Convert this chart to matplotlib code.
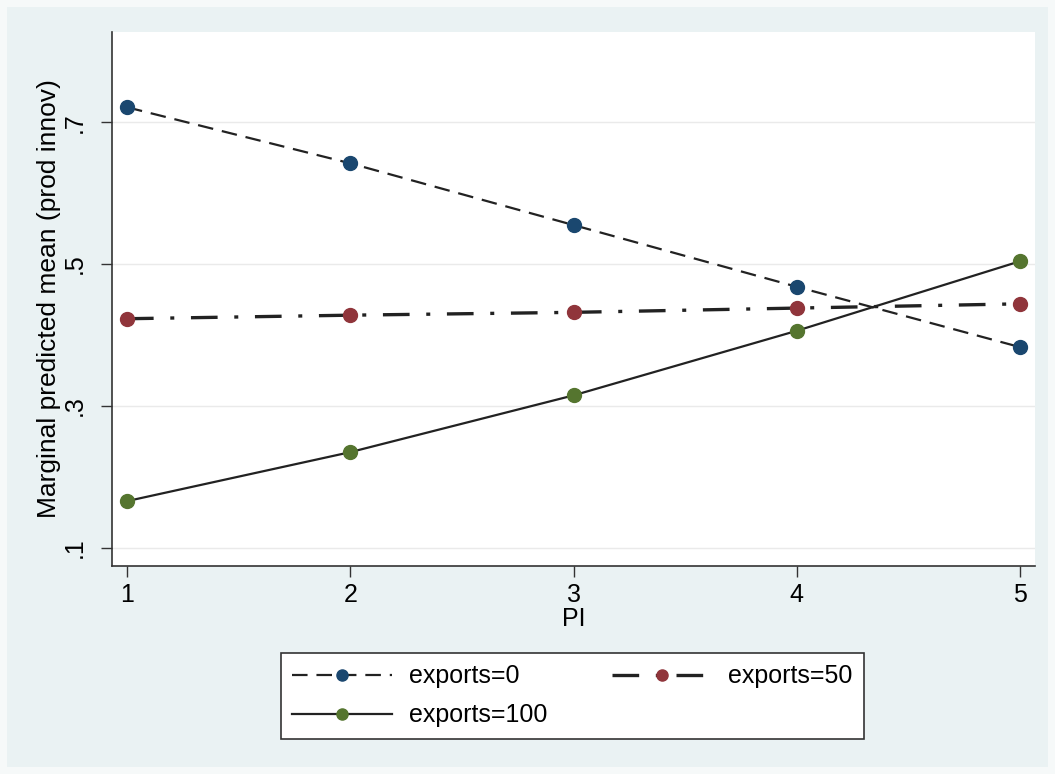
import matplotlib
matplotlib.use("Agg")
import matplotlib.pyplot as plt
from matplotlib.patches import Rectangle

plt.rcParams['font.family'] = ['Liberation Sans', 'DejaVu Sans']

pi = [1, 2, 3, 4, 5]
exports0 = [0.721, 0.642, 0.555, 0.468, 0.383]
exports50 = [0.423, 0.428, 0.432, 0.438, 0.444]
exports100 = [0.166, 0.235, 0.315, 0.406, 0.504]
yticks = [0.1, 0.3, 0.5, 0.7]
yticklabels = ['.1', '.3', '.5', '.7']

W, H = 1055, 774
fig = plt.figure(figsize=(W / 100, H / 100), dpi=100)
fig.patch.set_facecolor('#F6F9F9')

bg = fig.add_axes([0, 0, 1, 1], zorder=-10)
bg.set_axis_off()
bg.set_xlim(0, W)
bg.set_ylim(H, 0)
bg.add_patch(Rectangle((7, 7), W - 14, H - 14, facecolor='#EAF2F3', edgecolor='none'))

ax = fig.add_axes([112 / W, 1 - 566 / H, (1035 - 112) / W, (566 - 32) / H])
ax.set_facecolor('white')

line_kw = dict(color='#222222', lw=1.6, markersize=10)
ax.plot(pi, exports0, linestyle=(0, (7, 4)), marker='o', markerfacecolor='#1a476f',
        markeredgecolor='#1a476f', label='exports=0', **line_kw)
ax.plot(pi, exports100, linestyle='-', marker='o', markerfacecolor='#55752f',
        markeredgecolor='#55752f', label='exports=100', **line_kw)
ax.plot(pi, exports50, linestyle=(0, (8, 5, 1.2, 5)), marker='o', markerfacecolor='#90353b',
        markeredgecolor='#90353b', label='exports=50', color='#222222', lw=2.4, markersize=10)

ax.set_xlim(0.933, 5.067)
ax.set_ylim(0.0746, 0.827)
ax.set_xticks(pi)
ax.set_yticks(yticks)
ax.set_yticklabels(yticklabels, rotation=90, va='center')
ax.tick_params(axis='both', labelsize=18, length=8, width=1, color='#333333')
ax.tick_params(axis='x', pad=4)
ax.tick_params(axis='y', pad=10)
ax.grid(axis='y', color='#EAEAEA', lw=1)
ax.set_axisbelow(True)
for s in ['top', 'right']:
    ax.spines[s].set_visible(False)
for s in ['left', 'bottom']:
    ax.spines[s].set_color('#333333')
    ax.spines[s].set_linewidth(1.2)

ax.set_xlabel('PI', fontsize=18, labelpad=0)
ax.set_ylabel('Marginal predicted mean (prod innov)', fontsize=19)
ax.yaxis.set_label_coords(-0.055, 0.5)

leg = fig.legend(loc='upper left', bbox_to_anchor=(281 / W, 1 - 653 / H),
                 borderaxespad=0, ncol=2, fontsize=18, frameon=True, fancybox=False,
                 framealpha=1, handlelength=4.0, handletextpad=0.65, columnspacing=2.6,
                 borderpad=0.45, labelspacing=0.6, markerscale=0.8)
leg.get_frame().set_edgecolor('#333333')
leg.get_frame().set_linewidth(1.2)

fig.savefig('out.png', dpi=100, facecolor=fig.get_facecolor())
